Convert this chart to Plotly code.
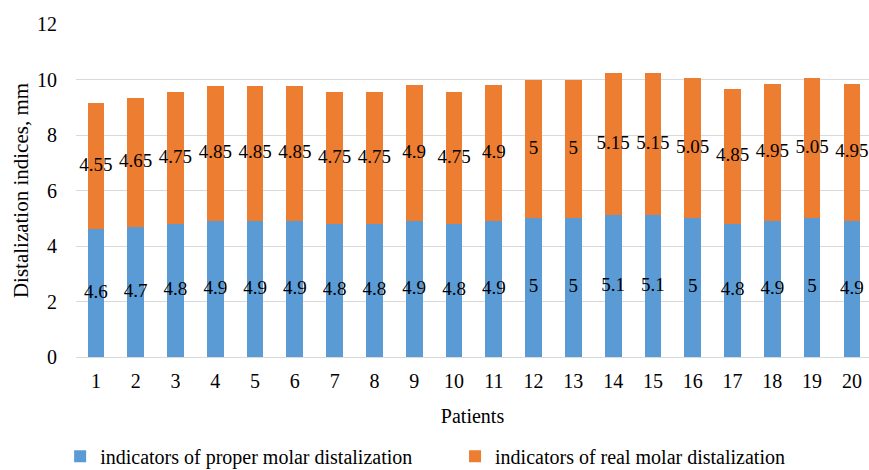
import plotly.graph_objects as go

patients = list(range(1, 21))
proper = [4.6, 4.7, 4.8, 4.9, 4.9, 4.9, 4.8, 4.8, 4.9, 4.8, 4.9, 5, 5, 5.1, 5.1, 5, 4.8, 4.9, 5, 4.9]
real = [4.55, 4.65, 4.75, 4.85, 4.85, 4.85, 4.75, 4.75, 4.9, 4.75, 4.9, 5, 5, 5.15, 5.15, 5.05, 4.85, 4.95, 5.05, 4.95]
tick_labels = [str(p) for p in patients]

BLUE = "#5B9BD5"
ORANGE = "#ED7D31"
FONT = "Liberation Serif"

fig = go.Figure()
fig.add_trace(go.Bar(x=patients, y=proper, name="indicators of proper molar distalization",
                     marker=dict(color=BLUE, line=dict(width=0)), width=0.42, legend="legend"))
fig.add_trace(go.Bar(x=patients, y=real, name="indicators of real molar distalization",
                     marker=dict(color=ORANGE, line=dict(width=0)), width=0.42, legend="legend2"))

# value labels centred in each segment
fig.add_trace(go.Scatter(x=patients, y=[p / 2 for p in proper], mode="text",
                         text=[f"{v:g}" for v in proper], textposition="middle center",
                         textfont=dict(family=FONT, size=19, color="#000"),
                         showlegend=False, hoverinfo="skip"))
fig.add_trace(go.Scatter(x=patients, y=[p + r / 2 for p, r in zip(proper, real)], mode="text",
                         text=[f"{v:g}" for v in real], textposition="middle center",
                         textfont=dict(family=FONT, size=19, color="#000"),
                         showlegend=False, hoverinfo="skip"))

legend_common = dict(orientation="h", xanchor="left", y=-0.298, yanchor="middle",
                     font=dict(family=FONT, size=20), bgcolor="rgba(0,0,0,0)")

fig.update_layout(
    barmode="stack",
    width=869, height=470,
    margin=dict(l=76, r=0, t=24, b=113, autoexpand=False),
    paper_bgcolor="white", plot_bgcolor="white",
    font=dict(family=FONT, size=20, color="#000"),
    legend=dict(x=-0.02, **legend_common),
    legend2=dict(x=0.478, **legend_common),
    xaxis=dict(range=[0.5, 20.43], tickvals=patients, ticktext=tick_labels,
               showgrid=False, zeroline=False, showline=False, ticks="",
               automargin=False, ticklabelstandoff=10,
               title=dict(text="Patients", font=dict(family=FONT, size=20), standoff=17),
               tickfont=dict(family=FONT, size=20)),
    yaxis=dict(range=[0, 12], dtick=2, showgrid=True, gridcolor="#D9D9D9", gridwidth=1,
               zeroline=True, zerolinecolor="#D9D9D9", zerolinewidth=1, showline=False,
               ticks="", ticklabelstandoff=18, automargin=False,
               title=dict(text="Distalization indices, mm", font=dict(family=FONT, size=21), standoff=2),
               tickfont=dict(family=FONT, size=20)),
)

fig.write_html("out.html", config={"displayModeBar": False},
               post_script="document.body.style.margin='0px';")
